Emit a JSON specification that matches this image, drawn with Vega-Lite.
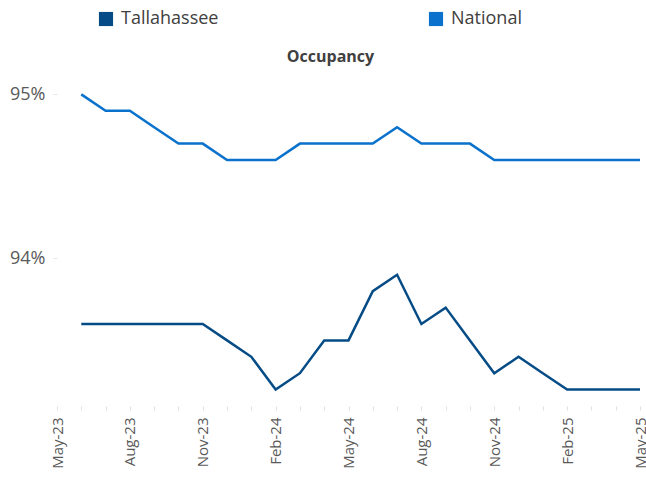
{
  "$schema": "https://vega.github.io/schema/vega-lite/v6.json",
  "width": 583,
  "height": 328,
  "autosize": "none",
  "padding": {"left": 57, "top": 78, "right": 6, "bottom": 76},
  "background": "white",
  "config": {
    "view": {"stroke": null},
    "font": "Open Sans"
  },
  "title": {
    "text": "Occupancy",
    "fontSize": 16,
    "fontWeight": "bold",
    "color": "#404040",
    "font": "Open Sans",
    "anchor": "middle",
    "dx": -18,
    "dy": 67,
    "offset": 12
  },
  "data": {
    "values": [
      {"month": "Jun-23", "series": "Tallahassee", "value": 93.6},
      {"month": "Jul-23", "series": "Tallahassee", "value": 93.6},
      {"month": "Aug-23", "series": "Tallahassee", "value": 93.6},
      {"month": "Sep-23", "series": "Tallahassee", "value": 93.6},
      {"month": "Oct-23", "series": "Tallahassee", "value": 93.6},
      {"month": "Nov-23", "series": "Tallahassee", "value": 93.6},
      {"month": "Dec-23", "series": "Tallahassee", "value": 93.5},
      {"month": "Jan-24", "series": "Tallahassee", "value": 93.4},
      {"month": "Feb-24", "series": "Tallahassee", "value": 93.2},
      {"month": "Mar-24", "series": "Tallahassee", "value": 93.3},
      {"month": "Apr-24", "series": "Tallahassee", "value": 93.5},
      {"month": "May-24", "series": "Tallahassee", "value": 93.5},
      {"month": "Jun-24", "series": "Tallahassee", "value": 93.8},
      {"month": "Jul-24", "series": "Tallahassee", "value": 93.9},
      {"month": "Aug-24", "series": "Tallahassee", "value": 93.6},
      {"month": "Sep-24", "series": "Tallahassee", "value": 93.7},
      {"month": "Oct-24", "series": "Tallahassee", "value": 93.5},
      {"month": "Nov-24", "series": "Tallahassee", "value": 93.3},
      {"month": "Dec-24", "series": "Tallahassee", "value": 93.4},
      {"month": "Jan-25", "series": "Tallahassee", "value": 93.3},
      {"month": "Feb-25", "series": "Tallahassee", "value": 93.2},
      {"month": "Mar-25", "series": "Tallahassee", "value": 93.2},
      {"month": "Apr-25", "series": "Tallahassee", "value": 93.2},
      {"month": "May-25", "series": "Tallahassee", "value": 93.2},
      {"month": "Jun-23", "series": "National", "value": 95.0},
      {"month": "Jul-23", "series": "National", "value": 94.9},
      {"month": "Aug-23", "series": "National", "value": 94.9},
      {"month": "Sep-23", "series": "National", "value": 94.8},
      {"month": "Oct-23", "series": "National", "value": 94.7},
      {"month": "Nov-23", "series": "National", "value": 94.7},
      {"month": "Dec-23", "series": "National", "value": 94.6},
      {"month": "Jan-24", "series": "National", "value": 94.6},
      {"month": "Feb-24", "series": "National", "value": 94.6},
      {"month": "Mar-24", "series": "National", "value": 94.7},
      {"month": "Apr-24", "series": "National", "value": 94.7},
      {"month": "May-24", "series": "National", "value": 94.7},
      {"month": "Jun-24", "series": "National", "value": 94.7},
      {"month": "Jul-24", "series": "National", "value": 94.8},
      {"month": "Aug-24", "series": "National", "value": 94.7},
      {"month": "Sep-24", "series": "National", "value": 94.7},
      {"month": "Oct-24", "series": "National", "value": 94.7},
      {"month": "Nov-24", "series": "National", "value": 94.6},
      {"month": "Dec-24", "series": "National", "value": 94.6},
      {"month": "Jan-25", "series": "National", "value": 94.6},
      {"month": "Feb-25", "series": "National", "value": 94.6},
      {"month": "Mar-25", "series": "National", "value": 94.6},
      {"month": "Apr-25", "series": "National", "value": 94.6},
      {"month": "May-25", "series": "National", "value": 94.6}
    ]
  },
  "mark": {"type": "line", "strokeWidth": 2.5, "strokeJoin": "miter"},
  "encoding": {
    "x": {
      "field": "month",
      "type": "ordinal",
      "scale": {
        "type": "point",
        "padding": 0,
        "domain": ["May-23","Jun-23","Jul-23","Aug-23","Sep-23","Oct-23","Nov-23","Dec-23","Jan-24","Feb-24","Mar-24","Apr-24","May-24","Jun-24","Jul-24","Aug-24","Sep-24","Oct-24","Nov-24","Dec-24","Jan-25","Feb-25","Mar-25","Apr-25","May-25"]
      },
      "axis": {
        "title": null,
        "domain": false,
        "grid": false,
        "ticks": true,
        "tickColor": "#e0e0e0",
        "tickSize": 4,
        "labelAngle": -90,
        "labelFontSize": 15,
        "labelColor": "#595959",
        "labelFont": "Open Sans",
        "labelPadding": 7,
        "labelExpr": "indexof(['May-23','Aug-23','Nov-23','Feb-24','May-24','Aug-24','Nov-24','Feb-25','May-25'], datum.value) >= 0 ? datum.value : ''"
      }
    },
    "y": {
      "field": "value",
      "type": "quantitative",
      "scale": {"domain": [93.1, 95.1], "zero": false, "nice": false},
      "axis": {
        "title": null,
        "domain": false,
        "grid": false,
        "values": [94, 95],
        "ticks": true,
        "tickColor": "#e6e6e6",
        "tickSize": 4,
        "labelFontSize": 18,
        "labelColor": "#595959",
        "labelFont": "Open Sans",
        "labelPadding": 8,
        "labelExpr": "format(datum.value, 'd') + '%'"
      }
    },
    "color": {
      "field": "series",
      "type": "nominal",
      "scale": {"domain": ["Tallahassee", "National"], "range": ["#054C86", "#0A72CC"]},
      "legend": {
        "title": null,
        "orient": "none",
        "direction": "horizontal",
        "legendX": 40,
        "legendY": -68,
        "symbolType": "square",
        "symbolSize": 200,
        "symbolStrokeWidth": 0,
        "labelFontSize": 18,
        "labelColor": "#404040",
        "labelFont": "Open Sans",
        "labelOffset": 6,
        "columnPadding": 208,
        "encode": {
          "symbols": {"update": {"fill": {"scale": "color", "field": "value"}, "strokeWidth": {"value": 0}}}
        }
      }
    }
  }
}
